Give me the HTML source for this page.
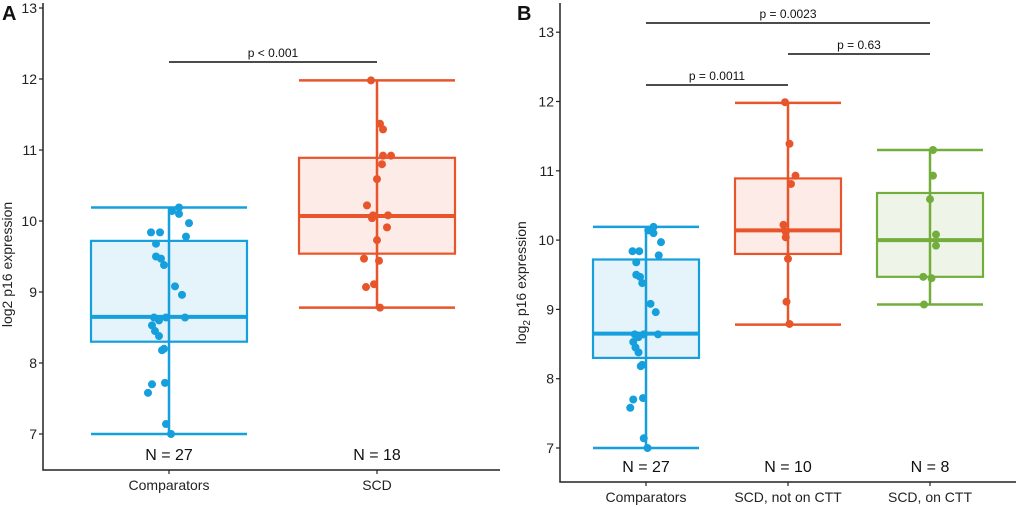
<!DOCTYPE html>
<html><head><meta charset="utf-8"><style>
body{margin:0;background:#fff;}
svg{display:block;font-family:"Liberation Sans",Arial,sans-serif;}
</style></head><body>
<svg id="chart" width="1020" height="507" viewBox="0 0 1020 507" xmlns="http://www.w3.org/2000/svg"></svg>
<script>
// ---- Data ----
const compValues=[7.0,7.14,7.58,7.7,7.72,8.18,8.2,8.38,8.45,8.53,8.6,8.64,8.64,8.64,8.96,9.08,9.38,9.47,9.5,9.68,9.78,9.84,9.84,9.97,10.1,10.14,10.19];
const compJitter=[2,-3,-21,-17,-4,-7,-5,-10,-14,-17,-10,-15,-3,16,13,6,-5,-8,-13,-13,17,-18,-9,20,10,3,10];
const scdValues=[11.98,11.37,11.29,10.92,10.92,10.8,10.59,10.22,10.08,10.04,10.08,9.91,9.73,9.47,9.44,9.11,9.07,8.78];
const scdJitter=[-6,3,6,6,14,5,0,-10,-4,-5,11,10,0,-13,2,-3,-11,3];
const scdNotValues=[11.99,11.39,10.93,10.81,10.22,10.12,10.04,9.73,9.11,8.79];
const scdNotJitter=[-4,2,10,4,-6,-3,-3,0,-2,2];
const scdOnValues=[11.3,10.93,10.59,10.08,9.92,9.47,9.45,9.07];
const scdOnJitter=[4,4,0,8,8,-9,2,-8];
// box stats: [lowerWhisker, q1, median, q3, upperWhisker]
const compStats=[7.0,8.3,8.65,9.72,10.19];
const scdStats=[8.78,9.54,10.07,10.89,11.98];
const scdNotStats=[8.78,9.8,10.14,10.89,11.98];
const scdOnStats=[9.07,9.47,10.0,10.68,11.3];
const yTicks=[7,8,9,10,11,12,13];
const catsA=["Comparators","SCD"];
const catsB=["Comparators","SCD, not on CTT","SCD, on CTT"];
const nA=["N = 27","N = 18"];
const nB=["N = 27","N = 10","N = 8"];

const NS="http://www.w3.org/2000/svg";
const svg=document.getElementById('chart');
function el(tag,attrs,parent){const e=document.createElementNS(NS,tag);for(const k in attrs)e.setAttribute(k,attrs[k]);(parent||svg).appendChild(e);return e;}
const BLUE="#169fdd",ORANGE="#e8552b",GREEN="#73ae3d";
const FILLS={[BLUE]:"#e5f3fb",[ORANGE]:"#fcebe7",[GREEN]:"#eef5e8"};

function panel(cfg){
  const g=el('g',{});
  
  
  const y=v=>cfg.y7-(v-7)*cfg.ppu;
  const ax=el('path',{d:`M${cfg.ax} 3 V${cfg.axY} H${cfg.right}`,stroke:"#222",fill:"none","stroke-width":1.5},g);
  
  yTicks.forEach(t=>{
    const yy=y(t); if(yy<3)return;
    el('line',{x1:cfg.ax-4,x2:cfg.ax,y1:yy,y2:yy,stroke:"#222","stroke-width":1.2},g);
    const tx=el('text',{x:cfg.ax-6,y:yy+5,"text-anchor":"end","font-size":14,fill:"#222"},g);
    tx.textContent=t;
    
  });
  const yt=el('text',{transform:`translate(${cfg.ax-cfg.titleOff},${(y(7)+y(12))/2+8}) rotate(-90)`,"text-anchor":"middle","font-size":14,fill:"#222"},g);
  yt.innerHTML=cfg.sub?'log<tspan font-size="10" dy="4">2</tspan><tspan dy="-4"> p16 expression</tspan>':'log2 p16 expression';
  
  const lt=el('text',{x:cfg.letterX,y:20,"font-size":20,"font-weight":"bold",fill:"#111"},g);
  lt.textContent=cfg.letter;
  
  cfg.groups.forEach((gr,i)=>{
    const cx=cfg.cx[i],hw=cfg.hw,s=gr.stats,c=gr.color;
    const bg=el('g',{},g);
    
    el('line',{x1:cx,x2:cx,y1:y(s[0]),y2:y(s[4]),stroke:c,"stroke-width":2.5},bg);
    el('line',{x1:cx-hw,x2:cx+hw,y1:y(s[0]),y2:y(s[0]),stroke:c,"stroke-width":2.5},bg);
    el('line',{x1:cx-hw,x2:cx+hw,y1:y(s[4]),y2:y(s[4]),stroke:c,"stroke-width":2.5},bg);
    el('rect',{x:cx-hw,y:y(s[3]),width:2*hw,height:y(s[1])-y(s[3]),fill:FILLS[c],stroke:c,"stroke-width":2.2},bg);
    el('line',{x1:cx,x2:cx,y1:y(s[3]),y2:y(s[1]),stroke:c,"stroke-width":2.5},bg);
    el('line',{x1:cx-hw,x2:cx+hw,y1:y(s[2]),y2:y(s[2]),stroke:c,"stroke-width":4},bg);
    gr.vals.forEach((v,j)=>{
      const p=el('circle',{cx:cx+gr.jit[j]*cfg.jscale,cy:y(v),r:4,fill:c},bg);
      
      
    });
    const nt=el('text',{x:cx,y:cfg.axY-10,"text-anchor":"middle","font-size":16,fill:"#111"},g);
    nt.textContent=cfg.n[i];
    
    el('line',{x1:cx,x2:cx,y1:cfg.axY,y2:cfg.axY+4,stroke:"#222","stroke-width":1.2},g);
    const ct=el('text',{x:cx,y:cfg.axY+20,"text-anchor":"middle","font-size":14,fill:"#222"},g);
    ct.textContent=cfg.cats[i];
    
  });
  cfg.brackets.forEach(b=>{
    const bg=el('g',{},g);
    
    el('line',{x1:cfg.cx[b.a],x2:cfg.cx[b.b],y1:b.y,y2:b.y,stroke:"#111","stroke-width":1.5},bg);
    const t=el('text',{x:(cfg.cx[b.a]+cfg.cx[b.b])/2,y:b.y-5,"text-anchor":"middle","font-size":12,fill:"#111"},bg);
    t.textContent=b.t;
  });
}
panel({name:'panel-a',letter:'A',letterX:2,ax:43,axY:470,right:500,y7:434,ppu:71,cx:[169,377],hw:78,jscale:1,
  cats:catsA,n:nA,sub:false,titleOff:31,
  groups:[{key:'comparators',vals:compValues,jit:compJitter,stats:compStats,color:BLUE},
          {key:'scd',vals:scdValues,jit:scdJitter,stats:scdStats,color:ORANGE}],
  brackets:[{a:0,b:1,y:62,t:'p < 0.001'}]});
panel({name:'panel-b',letter:'B',letterX:517,ax:560,axY:482,right:1016,y7:448,ppu:69.3,cx:[646,788,930],hw:53,jscale:0.75,
  cats:catsB,n:nB,sub:true,titleOff:34,
  groups:[{key:'comparators',vals:compValues,jit:compJitter,stats:compStats,color:BLUE},
          {key:'scd-not-on-ctt',vals:scdNotValues,jit:scdNotJitter,stats:scdNotStats,color:ORANGE},
          {key:'scd-on-ctt',vals:scdOnValues,jit:scdOnJitter,stats:scdOnStats,color:GREEN}],
  brackets:[{a:0,b:2,y:23,t:'p = 0.0023'},{a:1,b:2,y:54,t:'p = 0.63'},{a:0,b:1,y:85,t:'p = 0.0011'}]});
</script>
</body></html>
